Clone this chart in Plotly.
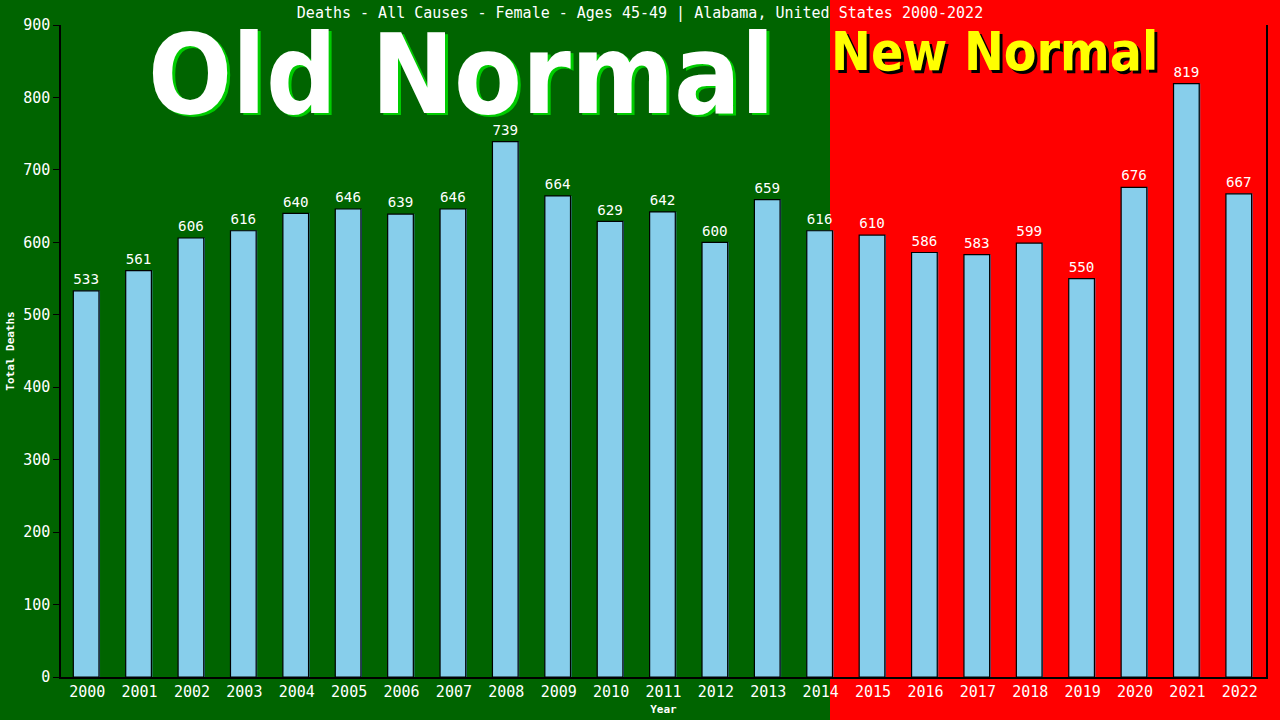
#!/usr/bin/env python3
"""
Deaths - All Causes - Female - Ages 45-49, Alabama 2000-2022, old normal vs new normal.
"""

import plotly.graph_objects as go

years = [str(y) for y in range(2000, 2023)]
deaths = [533, 561, 606, 616, 640, 646, 639, 646, 739, 664, 629, 642,
          600, 659, 616, 610, 586, 583, 599, 550, 676, 819, 667]

TITLE = "Deaths - All Causes - Female - Ages 45-49 | Alabama, United States 2000-2022"
MONO = "DejaVu Sans Mono"
BIG = "DejaVu Sans Condensed, DejaVu Sans"

# plot area in pixels (figure is 1280x720)
L, R, T, B = 61, 14, 25, 43
W, H = 1280, 720
PW, PH = W - L - R, H - T - B


def px_x(px):
    return (px - L) / PW


def px_y(py):
    return (H - B - py) / PH


fig = go.Figure()

# thin steel-blue shadow on the right of each bar
fig.add_trace(go.Bar(
    x=years, y=deaths,
    width=0.49, offset=-0.245,
    marker=dict(color='#4682B4', line=dict(width=0)),
    hoverinfo='skip', showlegend=False,
))

fig.add_trace(go.Bar(
    x=years, y=deaths,
    width=0.49, offset=-0.265,
    marker=dict(color='#87CEEB', line=dict(color='black', width=1.2)),
    text=[str(v) for v in deaths],
    textposition='outside',
    textfont=dict(family=MONO, size=15, color='white'),
    cliponaxis=False,
    showlegend=False,
))

shapes = [
    # red "new normal" background
    dict(type='rect', xref='paper', yref='paper',
         x0=px_x(830), x1=px_x(W + 5), y0=px_y(H + 5), y1=px_y(-5),
         fillcolor='#FF0000', line=dict(width=0), layer='below'),
]


def big_label(text, cx, cy, size, color):
    return dict(text=f"<b>{text}</b>", x=px_x(cx), y=px_y(cy), xref='paper', yref='paper',
                xanchor='center', yanchor='middle', showarrow=False,
                font=dict(family=BIG, size=size, color=color))


annotations = [
    big_label("Old Normal", 465, 77, 110, '#00CC00'),
    big_label("Old Normal", 461, 75, 110, 'white'),
    big_label("New Normal", 997, 55, 53, 'black'),
    big_label("New Normal", 994, 52, 53, '#FFFF00'),
]

fig.update_layout(
    width=W, height=H,
    margin=dict(l=L, r=R, t=T, b=B),
    paper_bgcolor='#006400',
    plot_bgcolor='rgba(0,0,0,0)',
    barmode='overlay',
    title=dict(text=TITLE, x=0.5, xanchor='center', y=1 - 13 / H, yanchor='middle',
               font=dict(family=MONO, size=15, color='white')),
    shapes=shapes,
    annotations=annotations,
    font=dict(family=MONO, color='white'),
)

fig.update_xaxes(
    type='category', automargin=False,
    showline=True, linecolor='black', linewidth=1.5,
    ticks='', showgrid=False,
    tickfont=dict(family=MONO, size=15, color='white'),
    title=dict(text="<b>Year</b>", font=dict(family=MONO, size=11, color='white'), standoff=6),
)
fig.update_yaxes(
    range=[0, 900], dtick=100, automargin=False,
    showline=True, linecolor='black', linewidth=1.5, mirror=True,
    ticks='outside', ticklen=6, tickcolor='black',
    showgrid=False, zeroline=False,
    tickfont=dict(family=MONO, size=15, color='white'),
    title=dict(text="<b>Total Deaths</b>", font=dict(family=MONO, size=11, color='white'), standoff=6),
)

# drop the default page margin so the figure sits flush in the window
fig.write_html("out.html", config={'displayModeBar': False},
               post_script="document.body.style.margin='0';")
